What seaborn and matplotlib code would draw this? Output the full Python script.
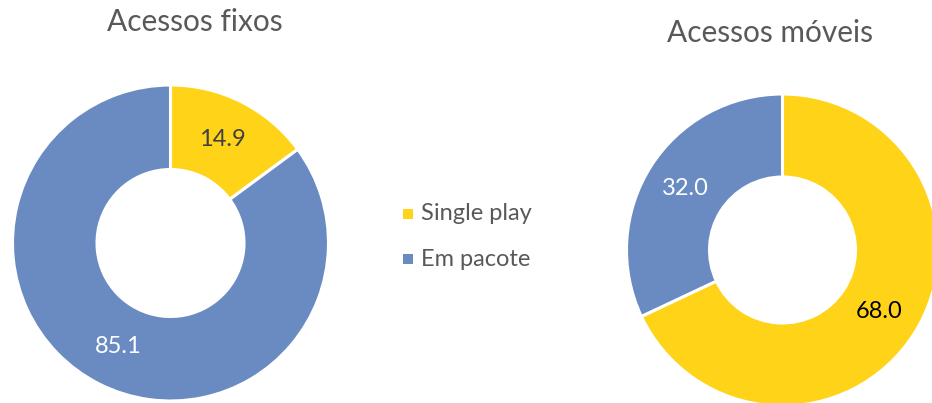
import matplotlib
matplotlib.use("Agg")
import matplotlib.pyplot as plt
import seaborn as sns

sns.set_theme(style="white")
plt.rcParams['font.family'] = ['Lato', 'DejaVu Sans']

categories = ["Single play", "Em pacote"]
fixos_values = [14.9, 85.1]
moveis_values = [68.0, 32.0]
titles = ["Acessos fixos", "Acessos móveis"]

colors = ["#FED318", "#6A8BC2"]
W, H = 932, 403

fig = plt.figure(figsize=(W / 100, H / 100), dpi=100)
ax = fig.add_axes([0, 0, 1, 1])

def donut(values, cx, cy, r_out, r_in, label_colors):
    wedges, texts = ax.pie(
        values, colors=colors, startangle=90, counterclock=False,
        center=(cx, H - cy), radius=r_out,
        labels=[f"{v:.1f}" for v in values],
        labeldistance=(r_out + r_in) / 2 / r_out,
        wedgeprops=dict(width=r_out - r_in, edgecolor="white", linewidth=2.2),
        textprops=dict(fontsize=17),
    )
    for t, c in zip(texts, label_colors):
        t.set_color(c)
        t.set_ha("center")
        t.set_va("center")
    return wedges

donut(fixos_values, 170.5, 243, 158, 73.5, ["#404040", "white"])
donut(moveis_values, 782.5, 250, 156, 73, ["black", "white"])

ax.set_xlim(0, W)
ax.set_ylim(0, H)
ax.set_aspect("equal")
ax.axis("off")

ax.text(195, H - 22, titles[0], ha="center", va="center", fontsize=21.5, color="#595959")
ax.text(770, H - 33, titles[1], ha="center", va="center", fontsize=21.5, color="#595959")

for i, (cat, col) in enumerate(zip(categories, colors)):
    y = H - (214 + 45 * i)
    ax.scatter([408], [y], marker="s", s=44, color=col, linewidths=0)
    ax.text(421, y, cat, ha="left", va="center", fontsize=17, color="#595959")

fig.savefig("out.png", dpi=100)
